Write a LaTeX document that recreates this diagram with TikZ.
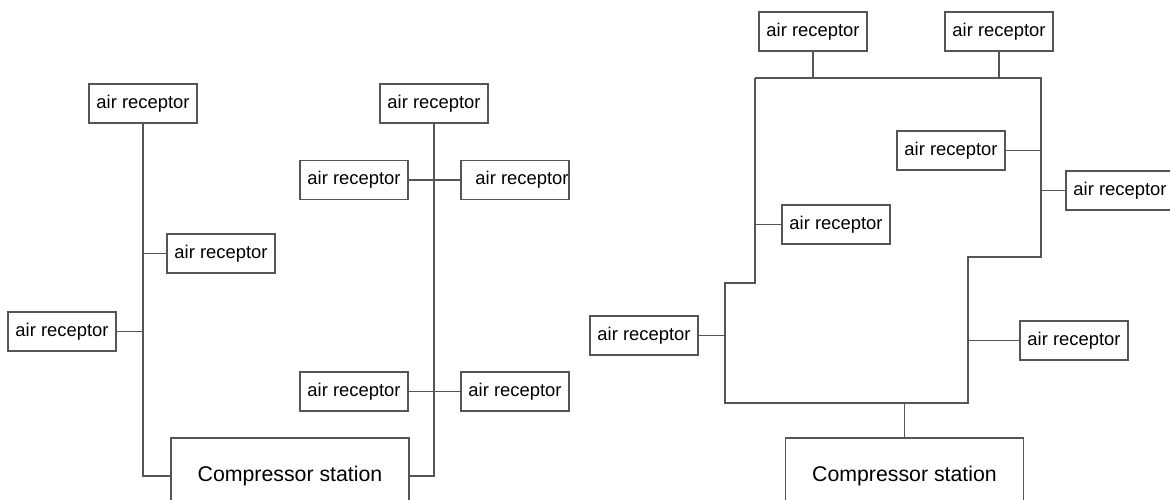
\documentclass[tikz,border=0pt]{standalone}
\usepackage{fontspec}
\setmainfont{Liberation Sans}
\usepackage{tikz}
\definecolor{pipegray}{RGB}{85,85,85}
\def\pipe{\draw[pipegray,line width=1.3pt]}

\begin{document}
\begin{tikzpicture}[x=1pt,y=-1pt,
    recv/.style={draw=pipegray,line width=1.3pt,minimum width=108pt,minimum height=39pt,inner sep=0pt,
                 font=\fontsize{18.4pt}{22pt}\selectfont},
    station/.style={draw=pipegray,line width=1.3pt,minimum width=238pt,minimum height=76pt,inner sep=0pt,
                 font=\fontsize{21.3pt}{25pt}\selectfont}]
                \useasboundingbox (0,0) rectangle (1170,500);
                \node[recv] (r1) at (143,103.5) {air receptor};
                \node[recv] (r2) at (434,103.5) {air receptor};
                \node[recv] (r3) at (221,253.5) {air receptor};
                \node[recv] (r4) at (62,331.5) {air receptor};
                \node[recv] (r5) at (354,180) {air receptor};
                \node[recv] (r6) at (515,180) {\hspace{14pt}air receptor};
                \node[recv] (r7) at (354,391.5) {air receptor};
                \node[recv] (r8) at (515,391.5) {air receptor};
                \node[station] (cs1) at (290,476) {Compressor station};
                \pipe (r1.south) |- (cs1.west);
                \pipe (r2.south) |- (cs1.east);
                \pipe (r3.west) -- (r3.west -| r1);
                \pipe (r4.east) -- (r4.east -| r1);
                \pipe (r5.east) -- (r6.west);
                \pipe (r7.east) -- (r8.west);
                \node[recv] (a1) at (813,31.5) {air receptor};
                \node[recv] (a2) at (999,31.5) {air receptor};
                \node[recv] (a3) at (951,150.5) {air receptor};
                \node[recv] (a4) at (1120,190.5) {air receptor};
                \node[recv] (a5) at (836,224.5) {air receptor};
                \node[recv] (a6) at (644,335.5) {air receptor};
                \node[recv] (a7) at (1074,340.5) {air receptor};
                \node[station] (cs2) at (904.5,476) {Compressor station};
                \coordinate (tl) at (755,78);
                \coordinate (tr) at (1041,78);
                \coordinate (sr) at (968,257);
                \coordinate (sl) at (725,283);
                \coordinate (bl) at (725,403);
                \coordinate (br) at (968,403);
                \pipe (tl) -- (tr) |- (sr) |- (bl) |- (sl) -| (tl);
                \pipe (a1.south) -- (a1.south |- tl);
                \pipe (a2.south) -- (a2.south |- tr);
                \pipe (a3.east) -- (a3.east -| tr);
                \pipe (a4.west) -- (a4.west -| tr);
                \pipe (a5.west) -- (a5.west -| tl);
                \pipe (a6.east) -- (a6.east -| bl);
                \pipe (a7.west) -- (a7.west -| br);
                \pipe (cs2.north) -- (cs2.north |- bl);
            \end{tikzpicture}
\end{document}
